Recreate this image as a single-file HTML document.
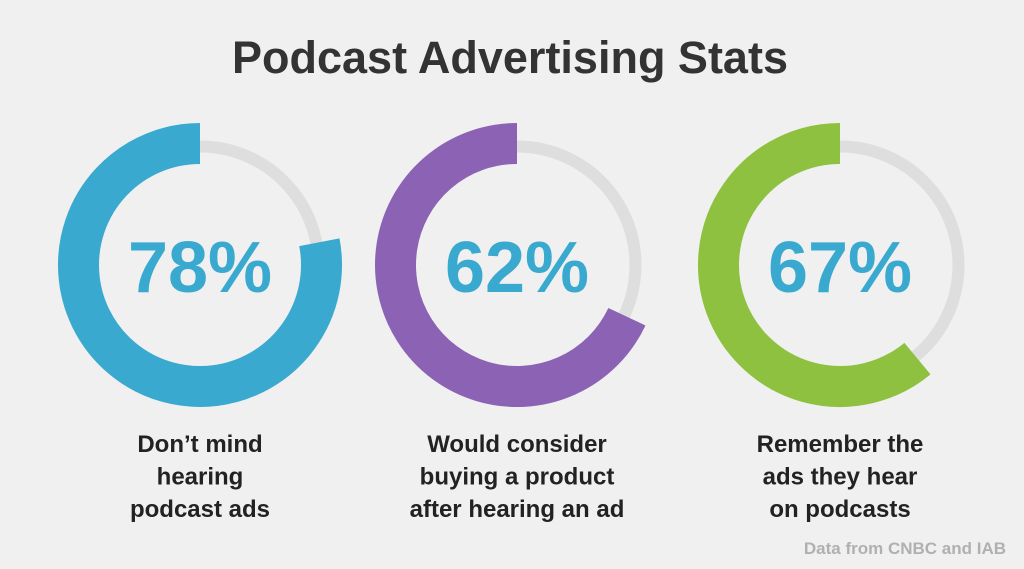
<!DOCTYPE html>
<html><head><meta charset="utf-8"><style>
html,body{margin:0;padding:0;background:#f0f0f0;}
body{width:1024px;height:564px;overflow:hidden;font-family:"Liberation Sans",sans-serif;}
</style></head><body>
<svg id="chart" width="1024" height="564" xmlns="http://www.w3.org/2000/svg">
<rect width="1024" height="564" fill="#f0f0f0"/>
<text x="510" y="73" text-anchor="middle" font-size="45" font-weight="bold" fill="#333">Podcast Advertising Stats</text>
<text x="1006" y="554" text-anchor="end" font-size="17" font-weight="bold" fill="#b0b0b0">Data from CNBC and IAB</text>
</svg>
<script>
const arcValues = [78, 68, 61];
const labels = ["78%", "62%", "67%"];
const captions = [
  ["Don’t mind", "hearing", "podcast ads"],
  ["Would consider", "buying a product", "after hearing an ad"],
  ["Remember the", "ads they hear", "on podcasts"]
];
const colors = ["#39a9cf", "#8c62b5", "#8dc13f"];
const NS = "http://www.w3.org/2000/svg";
const svg = document.getElementById('chart');
const centersX = [200, 517, 840];
const cy = 265, rRing = 121.5, wRing = 41, rTrack = 118.5, wTrack = 12;
function pt(r, pct, cx) {
  const a = -Math.PI / 2 - pct / 100 * 2 * Math.PI;
  return [cx + r * Math.cos(a), cy + r * Math.sin(a)];
}
arcValues.forEach((v, i) => {
  const cx = centersX[i];
  const track = document.createElementNS(NS, 'circle');
  
  
  track.setAttribute('cx', cx); track.setAttribute('cy', cy); track.setAttribute('r', rTrack);
  track.setAttribute('fill', 'none'); track.setAttribute('stroke', '#dedede'); track.setAttribute('stroke-width', wTrack);
  svg.appendChild(track);
  const s = pt(rRing, 0, cx), e = pt(rRing, v, cx);
  const large = v > 50 ? 1 : 0;
  const arc = document.createElementNS(NS, 'path');
  
  
  arc.setAttribute('d', `M${s[0]} ${s[1]} A${rRing} ${rRing} 0 ${large} 0 ${e[0]} ${e[1]}`);
  arc.setAttribute('fill', 'none'); arc.setAttribute('stroke', colors[i]); arc.setAttribute('stroke-width', wRing);
  svg.appendChild(arc);
  const t = document.createElementNS(NS, 'text');
  
  
  t.setAttribute('x', cx); t.setAttribute('y', cy + 27);
  t.setAttribute('text-anchor', 'middle'); t.setAttribute('font-size', '72');
  t.setAttribute('font-weight', 'bold'); t.setAttribute('fill', '#39a9cf');
  t.textContent = labels[i];
  svg.appendChild(t);
  captions[i].forEach((line, j) => {
    const c = document.createElementNS(NS, 'text');
    
    
    c.setAttribute('x', cx); c.setAttribute('y', 452 + j * 32.5);
    c.setAttribute('text-anchor', 'middle'); c.setAttribute('font-size', '24');
    c.setAttribute('font-weight', 'bold'); c.setAttribute('fill', '#222');
    c.textContent = line;
    svg.appendChild(c);
  });
});
</script>
</body></html>
